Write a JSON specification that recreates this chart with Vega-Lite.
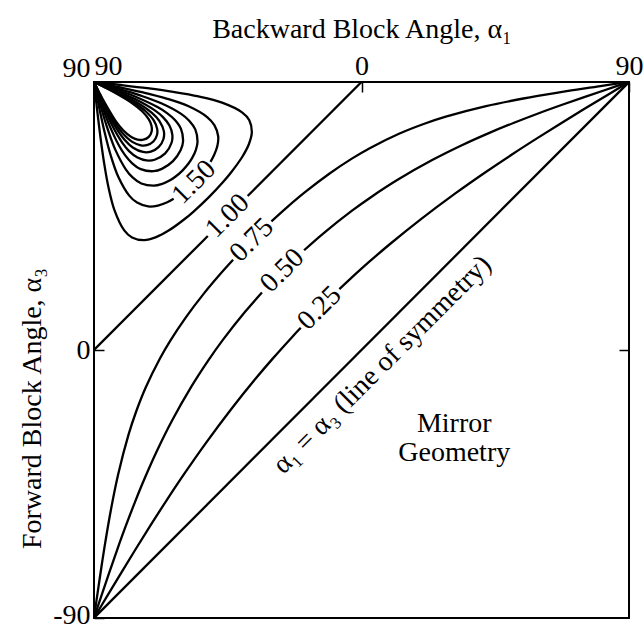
{
  "$schema": "https://vega.github.io/schema/vega-lite/v6.json",
  "width": 535,
  "height": 536,
  "autosize": {"type": "none"},
  "padding": {"left": 94, "top": 82, "right": 15, "bottom": 12},
  "background": "white",
  "config": {
    "view": {"stroke": "black", "strokeWidth": 2},
    "axis": {"grid": false, "domain": false, "labelFont": "Liberation Serif", "labelFontSize": 28, "labelColor": "black", "titleFont": "Liberation Serif", "titleFontSize": 28, "titleFontWeight": "normal", "titleColor": "black", "tickColor": "black", "tickWidth": 1.5},
    "text": {"font": "Liberation Serif", "fontSize": 28, "color": "black"}
  },
  "datasets": {
    "curves": [
      {"k":"diag","o":0,"x":-90,"y":-90},{"k":"diag","o":1,"x":90,"y":90},
      {"k":"1.00a","o":0,"x":-90,"y":0},{"k":"1.00a","o":1,"x":-51.7,"y":38.3},
      {"k":"1.00b","o":0,"x":-38.3,"y":51.7},{"k":"1.00b","o":1,"x":0,"y":90},
      {"k":"0.25a","o":0,"x":-90,"y":-90},{"k":"0.25a","o":1,"x":-85.49,"y":-82.49},{"k":"0.25a","o":2,"x":-80.9,"y":-74.9},{"k":"0.25a","o":3,"x":-76.16,"y":-67.16},{"k":"0.25a","o":4,"x":-71.15,"y":-59.15},{"k":"0.25a","o":5,"x":-65.74,"y":-50.74},{"k":"0.25a","o":6,"x":-59.71,"y":-41.71},{"k":"0.25a","o":7,"x":-52.68,"y":-31.68},{"k":"0.25a","o":8,"x":-43.8,"y":-19.8},{"k":"0.25a","o":9,"x":-35.6,"y":-9.6},{"k":"0.25a","o":10,"x":-29.73,"y":-2.73},{"k":"0.25a","o":11,"x":-23.39,"y":4.31},{"k":"0.25a","o":12,"x":-20.45,"y":7.45},
      {"k":"0.25b","o":0,"x":-7.45,"y":20.45},{"k":"0.25b","o":1,"x":-4.31,"y":23.39},{"k":"0.25b","o":2,"x":2.73,"y":29.73},{"k":"0.25b","o":3,"x":9.6,"y":35.6},{"k":"0.25b","o":4,"x":19.8,"y":43.8},{"k":"0.25b","o":5,"x":31.68,"y":52.68},{"k":"0.25b","o":6,"x":41.71,"y":59.71},{"k":"0.25b","o":7,"x":50.74,"y":65.74},{"k":"0.25b","o":8,"x":59.15,"y":71.15},{"k":"0.25b","o":9,"x":67.16,"y":76.16},{"k":"0.25b","o":10,"x":74.9,"y":80.9},{"k":"0.25b","o":11,"x":82.49,"y":85.49},{"k":"0.25b","o":12,"x":90,"y":90},
      {"k":"0.50a","o":0,"x":-90,"y":-90},{"k":"0.50a","o":1,"x":-87.49,"y":-82.49},{"k":"0.50a","o":2,"x":-84.93,"y":-74.93},{"k":"0.50a","o":3,"x":-82.27,"y":-67.27},{"k":"0.50a","o":4,"x":-79.43,"y":-59.43},{"k":"0.50a","o":5,"x":-76.32,"y":-51.32},{"k":"0.50a","o":6,"x":-72.83,"y":-42.83},{"k":"0.50a","o":7,"x":-68.76,"y":-33.76},{"k":"0.50a","o":8,"x":-63.77,"y":-23.77},{"k":"0.50a","o":9,"x":-57.15,"y":-12.15},{"k":"0.50a","o":10,"x":-51.65,"y":-3.65},{"k":"0.50a","o":11,"x":-46.7,"y":3.3},{"k":"0.50a","o":12,"x":-39.1,"y":12.9},{"k":"0.50a","o":13,"x":-33.5,"y":19.31},
      {"k":"0.50b","o":0,"x":-19.31,"y":33.5},{"k":"0.50b","o":1,"x":-12.9,"y":39.1},{"k":"0.50b","o":2,"x":-3.3,"y":46.7},{"k":"0.50b","o":3,"x":3.65,"y":51.65},{"k":"0.50b","o":4,"x":12.15,"y":57.15},{"k":"0.50b","o":5,"x":23.77,"y":63.77},{"k":"0.50b","o":6,"x":33.76,"y":68.76},{"k":"0.50b","o":7,"x":42.83,"y":72.83},{"k":"0.50b","o":8,"x":51.32,"y":76.32},{"k":"0.50b","o":9,"x":59.43,"y":79.43},{"k":"0.50b","o":10,"x":67.27,"y":82.27},{"k":"0.50b","o":11,"x":74.93,"y":84.93},{"k":"0.50b","o":12,"x":82.49,"y":87.49},{"k":"0.50b","o":13,"x":90,"y":90},
      {"k":"0.75a","o":0,"x":-90,"y":-90},{"k":"0.75a","o":1,"x":-89.17,"y":-84.17},{"k":"0.75a","o":2,"x":-88.31,"y":-78.31},{"k":"0.75a","o":3,"x":-87.44,"y":-72.44},{"k":"0.75a","o":4,"x":-86.52,"y":-66.52},{"k":"0.75a","o":5,"x":-84.46,"y":-54.46},{"k":"0.75a","o":6,"x":-81.9,"y":-41.9},{"k":"0.75a","o":7,"x":-78.36,"y":-28.36},{"k":"0.75a","o":8,"x":-75.9,"y":-20.9},{"k":"0.75a","o":9,"x":-72.61,"y":-12.61},{"k":"0.75a","o":10,"x":-67.77,"y":-2.77},{"k":"0.75a","o":11,"x":-64.26,"y":3.25},{"k":"0.75a","o":12,"x":-59.27,"y":10.73},{"k":"0.75a","o":13,"x":-52.99,"y":19.01},{"k":"0.75a","o":14,"x":-47.74,"y":25.26},{"k":"0.75a","o":15,"x":-43.2,"y":30.3},
      {"k":"0.75b","o":0,"x":-30.3,"y":43.2},{"k":"0.75b","o":1,"x":-25.26,"y":47.74},{"k":"0.75b","o":2,"x":-19.01,"y":52.99},{"k":"0.75b","o":3,"x":-10.73,"y":59.27},{"k":"0.75b","o":4,"x":-3.25,"y":64.26},{"k":"0.75b","o":5,"x":2.77,"y":67.77},{"k":"0.75b","o":6,"x":12.61,"y":72.61},{"k":"0.75b","o":7,"x":20.9,"y":75.9},{"k":"0.75b","o":8,"x":28.36,"y":78.36},{"k":"0.75b","o":9,"x":41.9,"y":81.9},{"k":"0.75b","o":10,"x":54.46,"y":84.46},{"k":"0.75b","o":11,"x":66.52,"y":86.52},{"k":"0.75b","o":12,"x":72.44,"y":87.44},{"k":"0.75b","o":13,"x":78.31,"y":88.31},{"k":"0.75b","o":14,"x":84.17,"y":89.17},{"k":"0.75b","o":15,"x":90,"y":90},
      {"k":"1.25","o":0,"x":-90,"y":90},{"k":"1.25","o":1,"x":-85.5,"y":89.5},{"k":"1.25","o":2,"x":-81.01,"y":88.99},{"k":"1.25","o":3,"x":-72.09,"y":87.91},{"k":"1.25","o":4,"x":-63.32,"y":86.68},{"k":"1.25","o":5,"x":-54.83,"y":85.17},{"k":"1.25","o":6,"x":-46.91,"y":83.09},{"k":"1.25","o":7,"x":-40.18,"y":79.82},{"k":"1.25","o":8,"x":-37.79,"y":77.21},{"k":"1.25","o":9,"x":-36.9,"y":73.1},{"k":"1.25","o":10,"x":-37.9,"y":69.1},{"k":"1.25","o":11,"x":-40.1,"y":64.9},{"k":"1.25","o":12,"x":-43.9,"y":59.6},{"k":"1.25","o":13,"x":-46.5,"y":56.5},{"k":"1.25","o":14,"x":-51.34,"y":51.34},{"k":"1.25","o":15,"x":-56.5,"y":46.5},{"k":"1.25","o":16,"x":-59.6,"y":43.9},{"k":"1.25","o":17,"x":-64.9,"y":40.1},{"k":"1.25","o":18,"x":-69.1,"y":37.9},{"k":"1.25","o":19,"x":-73.1,"y":36.9},{"k":"1.25","o":20,"x":-77.21,"y":37.79},{"k":"1.25","o":21,"x":-79.82,"y":40.18},{"k":"1.25","o":22,"x":-83.09,"y":46.91},{"k":"1.25","o":23,"x":-85.17,"y":54.83},{"k":"1.25","o":24,"x":-86.68,"y":63.32},{"k":"1.25","o":25,"x":-87.91,"y":72.09},{"k":"1.25","o":26,"x":-88.99,"y":81.01},{"k":"1.25","o":27,"x":-89.5,"y":85.5},{"k":"1.25","o":28,"x":-90,"y":90},
      {"k":"1.50a","o":0,"x":-90,"y":90},{"k":"1.50a","o":1,"x":-85.835,"y":89.165},{"k":"1.50a","o":2,"x":-81.68,"y":88.31},{"k":"1.50a","o":3,"x":-73.48,"y":86.51},{"k":"1.50a","o":4,"x":-65.56,"y":84.44},{"k":"1.50a","o":5,"x":-58.16,"y":81.83},{"k":"1.50a","o":6,"x":-51.84,"y":78.15},{"k":"1.50a","o":7,"x":-49.5,"y":75.5},{"k":"1.50a","o":8,"x":-48.22,"y":71.78},{"k":"1.50a","o":9,"x":-48.5,"y":68.5},{"k":"1.50a","o":10,"x":-49.63,"y":65.37},{"k":"1.50a","o":11,"x":-50.8,"y":63.2},
      {"k":"1.50b","o":0,"x":-63.2,"y":50.8},{"k":"1.50b","o":1,"x":-65.37,"y":49.63},{"k":"1.50b","o":2,"x":-68.5,"y":48.5},{"k":"1.50b","o":3,"x":-71.78,"y":48.22},{"k":"1.50b","o":4,"x":-75.5,"y":49.5},{"k":"1.50b","o":5,"x":-78.15,"y":51.84},{"k":"1.50b","o":6,"x":-81.83,"y":58.16},{"k":"1.50b","o":7,"x":-84.44,"y":65.56},{"k":"1.50b","o":8,"x":-86.51,"y":73.48},{"k":"1.50b","o":9,"x":-88.31,"y":81.68},{"k":"1.50b","o":10,"x":-89.165,"y":85.835},{"k":"1.50b","o":11,"x":-90,"y":90},
      {"k":"1.75","o":0,"x":-90,"y":90},{"k":"1.75","o":1,"x":-86.07,"y":88.93},{"k":"1.75","o":2,"x":-82.165,"y":87.835},{"k":"1.75","o":3,"x":-74.5,"y":85.5},{"k":"1.75","o":4,"x":-67.2,"y":82.8},{"k":"1.75","o":5,"x":-60.69,"y":79.31},{"k":"1.75","o":6,"x":-57.97,"y":77.02},{"k":"1.75","o":7,"x":-55.92,"y":74.08},{"k":"1.75","o":8,"x":-55.17,"y":69.82},{"k":"1.75","o":9,"x":-55.69,"y":67.31},{"k":"1.75","o":10,"x":-56.91,"y":64.59},{"k":"1.75","o":11,"x":-58.27,"y":62.53},{"k":"1.75","o":12,"x":-60.255,"y":60.255},{"k":"1.75","o":13,"x":-62.53,"y":58.27},{"k":"1.75","o":14,"x":-64.59,"y":56.91},{"k":"1.75","o":15,"x":-67.31,"y":55.69},{"k":"1.75","o":16,"x":-69.82,"y":55.17},{"k":"1.75","o":17,"x":-74.08,"y":55.92},{"k":"1.75","o":18,"x":-77.02,"y":57.97},{"k":"1.75","o":19,"x":-79.31,"y":60.69},{"k":"1.75","o":20,"x":-82.8,"y":67.2},{"k":"1.75","o":21,"x":-85.5,"y":74.5},{"k":"1.75","o":22,"x":-87.835,"y":82.165},{"k":"1.75","o":23,"x":-88.93,"y":86.07},{"k":"1.75","o":24,"x":-90,"y":90},
      {"k":"2.00","o":0,"x":-90,"y":90},{"k":"2.00","o":1,"x":-86.25,"y":88.75},{"k":"2.00","o":2,"x":-82.53,"y":87.47},{"k":"2.00","o":3,"x":-75.26,"y":84.73},{"k":"2.00","o":4,"x":-68.49,"y":81.51},{"k":"2.00","o":5,"x":-65.43,"y":79.56},{"k":"2.00","o":6,"x":-62.77,"y":77.23},{"k":"2.00","o":7,"x":-60.74,"y":74.26},{"k":"2.00","o":8,"x":-60.05,"y":69.94},{"k":"2.00","o":9,"x":-60.83,"y":67.17},{"k":"2.00","o":10,"x":-63.435,"y":63.435},{"k":"2.00","o":11,"x":-67.17,"y":60.83},{"k":"2.00","o":12,"x":-69.94,"y":60.05},{"k":"2.00","o":13,"x":-74.26,"y":60.74},{"k":"2.00","o":14,"x":-77.23,"y":62.77},{"k":"2.00","o":15,"x":-79.56,"y":65.43},{"k":"2.00","o":16,"x":-81.51,"y":68.49},{"k":"2.00","o":17,"x":-84.73,"y":75.26},{"k":"2.00","o":18,"x":-87.47,"y":82.53},{"k":"2.00","o":19,"x":-88.75,"y":86.25},{"k":"2.00","o":20,"x":-90,"y":90},
      {"k":"2.25","o":0,"x":-90,"y":90},{"k":"2.25","o":1,"x":-86.39,"y":88.61},{"k":"2.25","o":2,"x":-82.82,"y":87.18},{"k":"2.25","o":3,"x":-75.87,"y":84.12},{"k":"2.25","o":4,"x":-69.53,"y":80.46},{"k":"2.25","o":5,"x":-66.8,"y":78.2},{"k":"2.25","o":6,"x":-64.62,"y":75.37},{"k":"2.25","o":7,"x":-63.65,"y":72.35},{"k":"2.25","o":8,"x":-63.9,"y":69.6},{"k":"2.25","o":9,"x":-66.04,"y":66.04},{"k":"2.25","o":10,"x":-69.6,"y":63.9},{"k":"2.25","o":11,"x":-72.35,"y":63.65},{"k":"2.25","o":12,"x":-75.37,"y":64.62},{"k":"2.25","o":13,"x":-78.2,"y":66.8},{"k":"2.25","o":14,"x":-80.46,"y":69.53},{"k":"2.25","o":15,"x":-84.12,"y":75.87},{"k":"2.25","o":16,"x":-87.18,"y":82.82},{"k":"2.25","o":17,"x":-88.61,"y":86.39},{"k":"2.25","o":18,"x":-90,"y":90},
      {"k":"2.50","o":0,"x":-90,"y":90},{"k":"2.50","o":1,"x":-86.51,"y":88.49},{"k":"2.50","o":2,"x":-83.04,"y":86.95},{"k":"2.50","o":3,"x":-76.37,"y":83.63},{"k":"2.50","o":4,"x":-70.42,"y":79.57},{"k":"2.50","o":5,"x":-68.03,"y":76.97},{"k":"2.50","o":6,"x":-66.5,"y":73.5},{"k":"2.50","o":7,"x":-66.63,"y":70.86},{"k":"2.50","o":8,"x":-68.2,"y":68.2},{"k":"2.50","o":9,"x":-70.86,"y":66.63},{"k":"2.50","o":10,"x":-73.5,"y":66.5},{"k":"2.50","o":11,"x":-76.97,"y":68.03},{"k":"2.50","o":12,"x":-79.57,"y":70.42},{"k":"2.50","o":13,"x":-83.63,"y":76.37},{"k":"2.50","o":14,"x":-86.95,"y":83.04},{"k":"2.50","o":15,"x":-88.49,"y":86.51},{"k":"2.50","o":16,"x":-90,"y":90},
      {"k":"2.75","o":0,"x":-90,"y":90},{"k":"2.75","o":1,"x":-86.6,"y":88.4},{"k":"2.75","o":2,"x":-83.23,"y":86.77},{"k":"2.75","o":3,"x":-76.78,"y":83.21},{"k":"2.75","o":4,"x":-72.73,"y":80.26},{"k":"2.75","o":5,"x":-69.9,"y":77.1},{"k":"2.75","o":6,"x":-68.75,"y":74.25},{"k":"2.75","o":7,"x":-68.81,"y":72.19},{"k":"2.75","o":8,"x":-70.02,"y":70.02},{"k":"2.75","o":9,"x":-72.19,"y":68.81},{"k":"2.75","o":10,"x":-74.25,"y":68.75},{"k":"2.75","o":11,"x":-77.1,"y":69.9},{"k":"2.75","o":12,"x":-80.26,"y":72.73},{"k":"2.75","o":13,"x":-83.21,"y":76.78},{"k":"2.75","o":14,"x":-86.77,"y":83.23},{"k":"2.75","o":15,"x":-88.4,"y":86.6},{"k":"2.75","o":16,"x":-90,"y":90},
      {"k":"3.00","o":0,"x":-90,"y":90},{"k":"3.00","o":1,"x":-86.67,"y":88.33},{"k":"3.00","o":2,"x":-83.39,"y":86.61},{"k":"3.00","o":3,"x":-77.14,"y":82.86},{"k":"3.00","o":4,"x":-73.81,"y":80.18},{"k":"3.00","o":5,"x":-71.55,"y":77.45},{"k":"3.00","o":6,"x":-70.66,"y":75.34},{"k":"3.00","o":7,"x":-70.61,"y":73.39},{"k":"3.00","o":8,"x":-71.565,"y":71.565},{"k":"3.00","o":9,"x":-73.39,"y":70.61},{"k":"3.00","o":10,"x":-75.34,"y":70.66},{"k":"3.00","o":11,"x":-77.45,"y":71.55},{"k":"3.00","o":12,"x":-80.18,"y":73.81},{"k":"3.00","o":13,"x":-82.86,"y":77.14},{"k":"3.00","o":14,"x":-86.61,"y":83.39},{"k":"3.00","o":15,"x":-88.33,"y":86.67},{"k":"3.00","o":16,"x":-90,"y":90}
    ],
    "labels": [
      {"x":-56.31,"y":56.31,"t":"1.50"},
      {"x":-45,"y":45,"t":"1.00"},
      {"x":-36.87,"y":36.87,"t":"0.75"},
      {"x":-26.57,"y":26.57,"t":"0.50"},
      {"x":-14.04,"y":14.04,"t":"0.25"},
      {"x":7,"y":-5,"t":"α₁ = α₃ (line of symmetry)"}
    ],
    "notes": [
      {"x":31.2,"y":-25,"t":"Mirror"},
      {"x":31.2,"y":-34.5,"t":"Geometry"}
    ]
  },
  "layer": [
    {
      "data": {"name": "curves"},
      "mark": {"type": "line", "stroke": "black", "strokeWidth": 2.3, "interpolate": "catmull-rom", "clip": true},
      "encoding": {
        "x": {"field": "x", "type": "quantitative", "scale": {"domain": [-90, 90], "nice": false, "zero": false},
          "axis": {"orient": "top", "values": [-90, 0, 90], "labelExpr": "datum.value == 0 ? '0' : '90'", "title": "Backward Block Angle, α₁", "tickSize": -10, "labelPadding": 12,
            "labelAlign": {"condition": {"test": "datum.value == -90", "value": "left"}, "value": "center"},
            "titleY": -45, "titleBaseline": "alphabetic", "titleAlign": "center", "titleX": 267.5}},
        "y": {"field": "y", "type": "quantitative", "scale": {"domain": [-90, 90], "nice": false, "zero": false},
          "axis": {"orient": "left", "values": [-90, 0, 90], "labelExpr": "datum.value == 0 ? '0' : (datum.value > 0 ? '90' : '-90')", "title": "Forward Block Angle, α₃", "tickSize": -10, "labelPadding": 14,
            "labelBaseline": {"condition": [{"test": "datum.value == 90", "value": "bottom"}], "value": "middle"},
            "labelOffset": {"condition": {"test": "datum.value == -90", "value": -3}, "value": 0},
            "titleX": -54, "titleY": 326, "titleBaseline": "alphabetic", "titleAlign": "center", "titleAngle": -90}},
        "detail": {"field": "k"},
        "order": {"field": "o", "type": "quantitative"}
      }
    },
    {
      "data": {"name": "labels"},
      "mark": {"type": "text", "angle": -45, "align": "center", "baseline": "middle"},
      "encoding": {
        "x": {"field": "x", "type": "quantitative", "axis": null},
        "y": {"field": "y", "type": "quantitative", "axis": {"orient": "right", "values": [0], "labels": false, "title": null, "tickSize": -10}},
        "text": {"field": "t"}
      }
    },
    {
      "data": {"name": "notes"},
      "mark": {"type": "text", "align": "center", "baseline": "middle"},
      "encoding": {
        "x": {"field": "x", "type": "quantitative", "axis": null},
        "y": {"field": "y", "type": "quantitative", "axis": null},
        "text": {"field": "t"}
      }
    }
  ],
  "resolve": {"axis": {"x": "independent", "y": "independent"}}
}
